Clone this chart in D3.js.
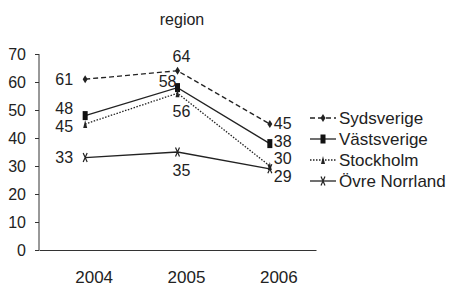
<!DOCTYPE html>
<html>
<head>
<meta charset="utf-8">
<script src="https://cdn.jsdelivr.net/npm/d3@7"></script>
<style>
  body { margin: 0; background: #fff; }
  text { font-family: "Liberation Sans", Arial, sans-serif; fill: #222; }
</style>
</head>
<body>
<svg width="449" height="289"></svg>
<script>
(function() {
	// chart data
	var years = ["2004", "2005", "2006"];
	var regions = ["Sydsverige", "Västsverige", "Stockholm", "Övre Norrland"];
	var sydsverige = [61, 64, 45];
	var vastsverige = [48, 58, 38];
	var stockholm = [45, 56, 30];
	var ovreNorrland = [33, 35, 29];
	var yTicks = [0, 10, 20, 30, 40, 50, 60, 70];

	var svg = d3.select("svg");

	var x = d3.scaleBand().domain(years).range([39, 316]);
	var y = d3.scaleLinear().domain([0, 70]).range([250, 54]);

	// label offsets [dx, dy, anchor] per point
	var series = [
		{ name: regions[0], values: sydsverige, dash: "5,3", marker: "diamond",
		  labels: [[-12, 0, "end"], [4, -14, "middle"], [4, -1, "start"]] },
		{ name: regions[1], values: vastsverige, dash: null, marker: "rect",
		  labels: [[-12, -7, "end"], [-1, -6, "end"], [4, -2, "start"]] },
		{ name: regions[2], values: stockholm, dash: "1.5,1.5", marker: "triangle",
		  labels: [[-12, 2, "end"], [4, 18, "middle"], [4, -8, "start"]] },
		{ name: regions[3], values: ovreNorrland, dash: null, marker: "x",
		  labels: [[-12, 0, "end"], [4, 18, "middle"], [4, 8, "start"]] }
	];

	function cx(i) { return x(years[i]) + x.bandwidth() / 2; }

	function drawMarker(g, type, px, py) {
		if (type === "diamond") {
			g.append("path").attr("d", "M" + px + "," + (py - 4) + "L" + (px + 2.5) + "," + py + "L" + px + "," + (py + 4) + "L" + (px - 2.5) + "," + py + "Z").style("fill", "#222");
		} else if (type === "rect") {
			g.append("rect").attr("x", px - 2.5).attr("y", py - 4.5).attr("width", 5).attr("height", 9).style("fill", "#111");
		} else if (type === "triangle") {
			g.append("path").attr("d", "M" + px + "," + (py - 4) + "L" + (px + 2) + "," + (py + 4) + "L" + (px - 2) + "," + (py + 4) + "Z").style("fill", "#222");
		} else {
			g.append("path").attr("d", "M" + (px - 2) + "," + (py - 4.5) + "L" + (px + 2) + "," + (py + 4.5) + "M" + (px + 2) + "," + (py - 4.5) + "L" + (px - 2) + "," + (py + 4.5)).style("stroke", "#222").style("stroke-width", 1.2).style("fill", "none");
		}
	}

	// axes
	var yAxis = svg.append("g").attr("transform", "translate(39,0)")
		.call(d3.axisLeft(y).tickValues(yTicks).tickSize(4).tickPadding(9));
	yAxis.select(".domain").attr("d", "M0,54V250").style("stroke", "#333");
	yAxis.selectAll(".tick line").style("stroke", "#333");
	yAxis.selectAll("text").style("font-size", "16px").style("fill", "#222").style("font-family", "Liberation Sans, Arial, sans-serif");

	var xAxis = svg.append("g").attr("transform", "translate(0,250)")
		.call(d3.axisBottom(x).tickSize(0).tickPadding(21));
	xAxis.select(".domain").style("stroke", "#333");
	xAxis.selectAll("text").attr("dx", 9).style("font-size", "17px").style("fill", "#222").style("font-family", "Liberation Sans, Arial, sans-serif");

	// title
	svg.append("text").attr("x", 182).attr("y", 25).attr("text-anchor", "middle").style("font-size", "16px").text("region");

	var line = d3.line().x(function(d, i) { return cx(i); }).y(function(d) { return y(d); });

	series.forEach(function(s) {
		var g = svg.append("g");
		g.append("path").datum(s.values).attr("d", line)
			.style("fill", "none").style("stroke", "#222").style("stroke-width", 1.3)
			.style("stroke-dasharray", s.dash);
		s.values.forEach(function(v, i) {
			drawMarker(g, s.marker, cx(i), y(v));
			var l = s.labels[i];
			g.append("text").attr("x", cx(i) + l[0]).attr("y", y(v) + l[1]).attr("dy", "0.35em")
				.attr("text-anchor", l[2]).style("font-size", "16px").text(v);
		});
	});

	// legend
	var legend = svg.append("g");
	series.forEach(function(s, i) {
		var ly = 118 + i * 21;
		legend.append("line").attr("x1", 310).attr("x2", 336).attr("y1", ly).attr("y2", ly)
			.style("stroke", "#222").style("stroke-width", 1.3).style("stroke-dasharray", s.dash);
		drawMarker(legend, s.marker, 323, ly);
		legend.append("text").attr("x", 339).attr("y", ly).attr("dy", "0.35em").style("font-size", "17px").text(s.name);
	});
})();
</script>
</body>
</html>
